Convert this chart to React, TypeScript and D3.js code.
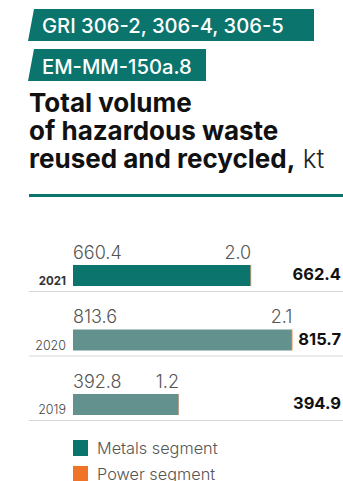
import React from "react";
import * as d3 from "d3";

const years = ["2021", "2020", "2019"];
const metals = [660.4, 813.6, 392.8];
const power = [2.0, 2.1, 1.2];
const totals = [662.4, 815.7, 394.9];
const tags = ["GRI 306-2, 306-4, 306-5", "EM-MM-150a.8"];
const titleLines = ["Total volume", "of hazardous waste", "reused and recycled,"];
const unit = "kt";
const legendLabels = ["Metals segment", "Power segment"];

const FONT = "Inter, 'Noto Sans', sans-serif";
const TEAL = "#0a746d";
const TEAL_LIGHT = "#62918e";
const ORANGE = "#f07328";

export default function App() {
  const W = 343, H = 481;
  const x = d3.scaleLinear().domain([0, 1000]).range([73, 342]);
  const y = d3.scaleBand<string>().domain(years).range([265, 415]).paddingInner(0.6744).paddingOuter(0);
  const bw = y.bandwidth();
  const tagBoxes = [
    { top: 9, bottom: 41, right: 314, base: 33 },
    { top: 49, bottom: 81, right: 206, base: 74 },
  ];
  return (
    <svg width={W} height={H} style={{ position: "absolute", left: 0, top: 0, background: "#fff" }} fontFamily={FONT}>
      {tags.map((t, i) => {
        const b = tagBoxes[i];
        return (
          <g key={t}>
            <path d={`M34,${b.top}L${b.right},${b.top}L${b.right},${b.bottom}L28,${b.bottom}Z`} fill={TEAL} />
            <text x={42} y={b.base} fill="#fff" fontSize={20.2} fontWeight={500}>{t}</text>
          </g>
        );
      })}
      {titleLines.map((l, i) => (
        <text key={l} x={29} y={112 + i * 28} fontSize={26} fontWeight={700} fill="#111">
          {l}
          {i === titleLines.length - 1 ? (
            <tspan fontWeight={300} fill="#222"> {unit}</tspan>
          ) : null}
        </text>
      ))}
      <rect x={29} y={194} width={W - 29} height={3} fill={TEAL} />
      {years.map((yr, i) => {
        const top = y(yr)!;
        const bot = top + bw;
        const mEnd = x(metals[i]);
        const pEnd = x(metals[i] + power[i]);
        const first = i === 0;
        return (
          <g key={yr}>
            <rect x={x(0)} y={top} width={mEnd - x(0)} height={bw} fill={first ? TEAL : TEAL_LIGHT} />
            <rect x={mEnd} y={top} width={pEnd - mEnd} height={bw} fill={ORANGE} />
            <text x={x(0)} y={top - 6} fontSize={18} fontWeight={300} fill="#555">{metals[i].toFixed(1)}</text>
            <text x={pEnd} y={top - 6} fontSize={18} fontWeight={300} fill="#555" textAnchor="end">{power[i].toFixed(1)}</text>
            <text x={66} y={bot - 1} fontSize={first ? 11.5 : 12.5} fontWeight={first ? 700 : 300} fill={first ? "#333" : "#444"} textAnchor="end">{yr}</text>
            <text x={341} y={bot - 6} fontSize={16.5} fontWeight={700} fill="#111" textAnchor="end">{totals[i].toFixed(1)}</text>
            <line x1={29} x2={W} y1={bot + 5.5} y2={bot + 5.5} stroke="#d8d8d8" strokeWidth={1} />
          </g>
        );
      })}
      {legendLabels.map((l, i) => (
        <g key={l}>
          <rect x={73} y={440 + i * 26} width={15} height={16} fill={i === 0 ? TEAL : ORANGE} />
          <text x={97} y={454 + i * 26} fontSize={16.3} fontWeight={300} fill="#555">{l}</text>
        </g>
      ))}
    </svg>
  );
}
